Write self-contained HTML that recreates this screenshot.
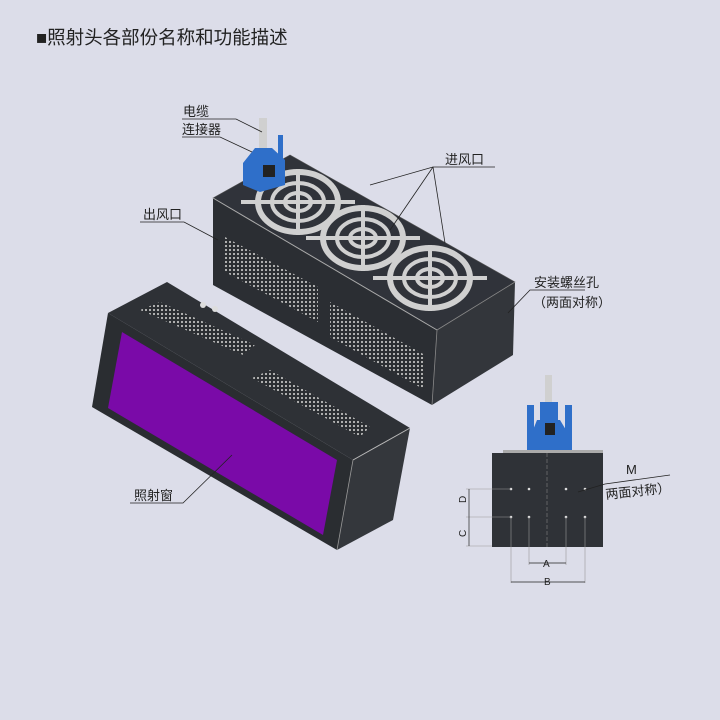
<!DOCTYPE html>
<html><head><meta charset="utf-8"><style>
html,body{margin:0;padding:0;background:#dcdde9;}
svg{display:block}
text{font-family:"Liberation Sans","Noto Sans CJK SC",sans-serif;fill:#222}
</style></head><body>
<svg width="720" height="720" viewBox="0 0 720 720" xmlns="http://www.w3.org/2000/svg">
<defs>
<pattern id="holes" width="4" height="4" patternUnits="userSpaceOnUse">
<rect width="4" height="4" fill="#2a2d31"/><circle cx="2" cy="2" r="1.1" fill="#bdbdbd"/>
</pattern>
</defs>
<rect width="720" height="720" fill="#dcdde9"/>
<text x="36" y="44" font-size="18.5">■照射头各部份名称和功能描述</text>

<!-- upper box -->
<polygon points="213,198 213,285 432,405 437,330" fill="#2b2e33"/>
<polygon points="437,330 432,405 513,355 515,282" fill="#33363b"/>
<polygon points="290,155 213,198 437,330 515,282" fill="#30333a" stroke="#555" stroke-width="0.6"/>
<line x1="213" y1="198" x2="437" y2="330" stroke="#aaa" stroke-width="1"/>
<line x1="437" y1="330" x2="515" y2="282" stroke="#888" stroke-width="0.8"/>
<line x1="437" y1="330" x2="432" y2="405" stroke="#888" stroke-width="0.8"/>
<polygon points="225,237 318,287 318,322 225,272" fill="url(#holes)"/>
<polygon points="330,302 425,355 425,390 330,337" fill="url(#holes)"/>
<!-- fans -->
<g fill="none" stroke="#d0d0d0">
<g transform="translate(298,202)">
<ellipse rx="40" ry="30" stroke-width="6"/><ellipse rx="26" ry="19" stroke-width="4"/><ellipse rx="13" ry="9" stroke-width="4"/>
<line x1="0" y1="-33" x2="0" y2="33" stroke-width="4"/><line x1="-57" y1="0" x2="57" y2="0" stroke-width="4"/>
</g>
<g transform="translate(363,238)">
<ellipse rx="40" ry="30" stroke-width="6"/><ellipse rx="26" ry="19" stroke-width="4"/><ellipse rx="13" ry="9" stroke-width="4"/>
<line x1="0" y1="-33" x2="0" y2="33" stroke-width="4"/><line x1="-57" y1="0" x2="57" y2="0" stroke-width="4"/>
</g>
<g transform="translate(430,278)">
<ellipse rx="40" ry="30" stroke-width="6"/><ellipse rx="26" ry="19" stroke-width="4"/><ellipse rx="13" ry="9" stroke-width="4"/>
<line x1="0" y1="-33" x2="0" y2="33" stroke-width="4"/><line x1="-57" y1="0" x2="57" y2="0" stroke-width="4"/>
</g>
</g>
<!-- connector top -->
<rect x="259" y="118" width="8" height="30" fill="#d0d0d0"/>
<polygon points="243,163 255,148 272,148 285,160 285,185 260,192 243,185" fill="#2f6fc9"/>
<rect x="263" y="165" width="12" height="12" fill="#222"/>
<rect x="278" y="135" width="5" height="30" fill="#2f6fc9"/>

<!-- lower box -->
<polygon points="167,282 108,313 353,460 410,428" fill="#2e3136"/>
<polygon points="108,313 92,407 337,550 353,460" fill="#2a2d31"/>
<polygon points="353,460 337,550 393,520 410,428" fill="#34373c"/>
<line x1="353" y1="460" x2="410" y2="428" stroke="#bbb" stroke-width="1"/>
<line x1="353" y1="460" x2="337" y2="550" stroke="#999" stroke-width="0.8"/>
<polygon points="122,332 108,408 323,535 337,460" fill="#7a0aa8"/>
<polygon points="140,310 160,302 255,345 243,355" fill="url(#holes)"/>
<polygon points="252,378 270,370 370,427 360,437" fill="url(#holes)"/>
<circle cx="203" cy="305" r="3" fill="#ddd"/><circle cx="215" cy="309" r="3" fill="#ddd"/>

<!-- front view -->
<rect x="545" y="375" width="7" height="30" fill="#d0d0d0"/>
<rect x="527" y="405" width="7" height="45" fill="#2f6fc9"/>
<rect x="565" y="405" width="7" height="45" fill="#2f6fc9"/>
<polygon points="537,420 560,420 566,430 566,450 533,450 533,430" fill="#2f6fc9"/>
<rect x="540" y="402" width="18" height="18" fill="#2f6fc9"/>
<rect x="545" y="423" width="10" height="12" fill="#222"/>
<rect x="503" y="450" width="100" height="4" fill="#aaa"/>
<rect x="492" y="453" width="111" height="94" fill="#2f3237"/>
<line x1="547" y1="453" x2="547" y2="547" stroke="#777" stroke-dasharray="4,2" stroke-width="0.7"/>
<g fill="#ddd"><circle cx="511" cy="489" r="1.3"/><circle cx="529" cy="489" r="1.3"/><circle cx="566" cy="489" r="1.3"/><circle cx="585" cy="489" r="1.3"/>
<circle cx="511" cy="517" r="1.3"/><circle cx="529" cy="517" r="1.3"/><circle cx="566" cy="517" r="1.3"/><circle cx="585" cy="517" r="1.3"/></g>
<g stroke="#999" stroke-width="0.6" fill="none">
<line x1="511" y1="517" x2="511" y2="583"/><line x1="529" y1="517" x2="529" y2="565"/><line x1="566" y1="517" x2="566" y2="565"/><line x1="585" y1="517" x2="585" y2="583"/>
<line x1="466" y1="489" x2="511" y2="489"/><line x1="466" y1="517" x2="511" y2="517"/><line x1="466" y1="546" x2="492" y2="546"/>
</g>
<g stroke="#222" stroke-width="0.7"><line x1="469" y1="489" x2="469" y2="546"/><line x1="529" y1="563" x2="566" y2="563"/><line x1="511" y1="582" x2="585" y2="582"/></g>
<text x="543" y="567" font-size="10">A</text><text x="544" y="585" font-size="10">B</text>
<text x="466" y="503" font-size="10" transform="rotate(-90 466 503)">D</text>
<text x="466" y="537" font-size="10" transform="rotate(-90 466 537)">C</text>

<!-- labels and leaders -->
<g stroke="#222" stroke-width="0.8" fill="none">
<polyline points="182,119 236,119 262,132"/><polyline points="182,137 220,137 252,152"/>
<polyline points="495,167 433,167 370,185"/><line x1="433" y1="167" x2="390" y2="230"/><line x1="433" y1="167" x2="445" y2="243"/>
<polyline points="140,222 184,222 218,240"/>
<polyline points="585,290 530,290 508,313"/>
<polyline points="130,503 183,503 232,455"/>
<polyline points="605,484 670,475"/><line x1="605" y1="484" x2="578" y2="492"/>
</g>
<text x="183" y="116" font-size="13">电缆</text>
<text x="182" y="134" font-size="13">连接器</text>
<text x="445" y="164" font-size="13">进风口</text>
<text x="143" y="219" font-size="13">出风口</text>
<text x="534" y="287" font-size="13">安装螺丝孔</text>
<text x="533" y="307" font-size="13">（两面对称）</text>
<text x="134" y="500" font-size="13">照射窗</text>
<text x="626" y="474" font-size="13">M</text>
<text x="606" y="499" font-size="13" transform="rotate(-6 606 499)">两面对称）</text>
</svg>
</body></html>
